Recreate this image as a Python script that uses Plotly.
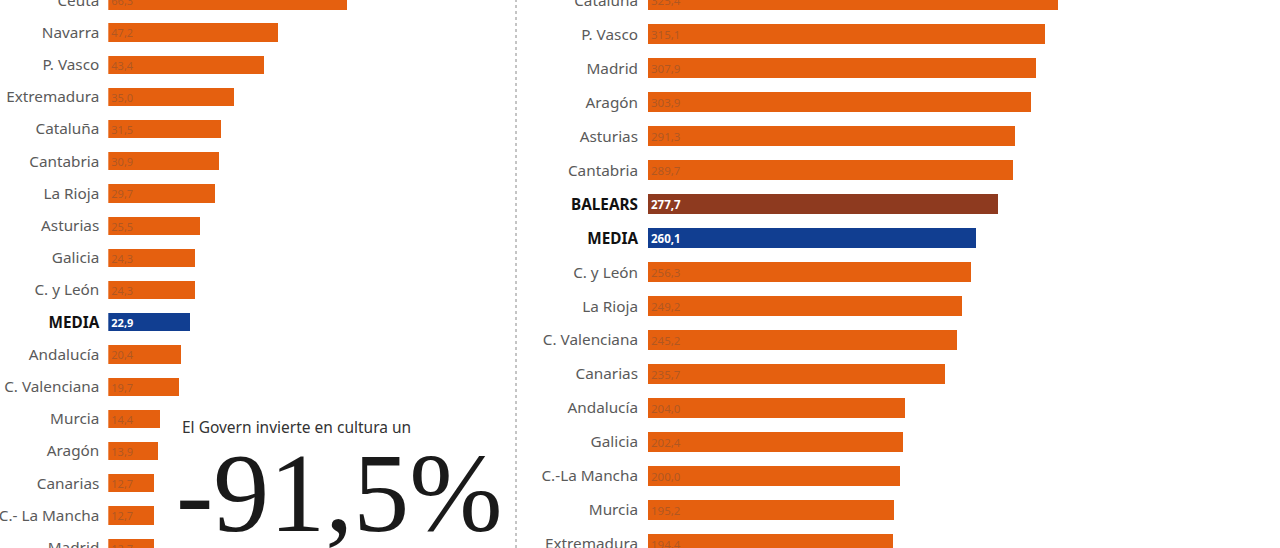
import plotly.graph_objects as go

# ---------------- data ----------------
left_regions = ["Ceuta", "Navarra", "P. Vasco", "Extremadura", "Cataluña", "Cantabria",
                "La Rioja", "Asturias", "Galicia", "C. y León", "MEDIA", "Andalucía",
                "C. Valenciana", "Murcia", "Aragón", "Canarias", "C.- La Mancha", "Madrid"]
left_values = [66.3, 47.2, 43.4, 35.0, 31.5, 30.9, 29.7, 25.5, 24.3, 24.3, 22.9, 20.4,
               19.7, 14.4, 13.9, 12.7, 12.7, 12.7]

right_regions = ["Cataluña", "P. Vasco", "Madrid", "Aragón", "Asturias", "Cantabria",
                 "BALEARS", "MEDIA", "C. y León", "La Rioja", "C. Valenciana", "Canarias",
                 "Andalucía", "Galicia", "C.-La Mancha", "Murcia", "Extremadura"]
right_values = [325.4, 315.1, 307.9, 303.9, 291.3, 289.7, 277.7, 260.1, 256.3, 249.2,
                245.2, 235.7, 204.0, 202.4, 200.0, 195.2, 194.4]

subtitle = "El Govern invierte en cultura un"
headline = "-91,5%"

# ---------------- styles ----------------
ORANGE = "#E5600F"
BALEARS_C = "#8E3A1F"
MEDIA_C = "#113E91"
W, H = 1280, 548


def fmt(v):
    return f"{v:.1f}".replace(".", ",")


def colors_for(regions):
    out = []
    for r in regions:
        if r == "MEDIA":
            out.append(MEDIA_C)
        elif r == "BALEARS":
            out.append(BALEARS_C)
        else:
            out.append(ORANGE)
    return out


def text_colors(regions):
    return ["white" if r in ("MEDIA", "BALEARS") else "rgba(130,80,50,0.55)" for r in regions]


def texts(regions, values):
    return [f"<b>{fmt(v)}</b>" if r in ("MEDIA", "BALEARS") else fmt(v)
            for r, v in zip(regions, values)]


def tick_texts(regions):
    return [f"<b><span style='color:#111'>{r}</span></b>" if r in ("MEDIA", "BALEARS") else r
            for r in regions]


fig = go.Figure()

fig.add_trace(go.Bar(
    x=left_values, y=left_regions, orientation="h",
    marker=dict(color=colors_for(left_regions), line=dict(width=0)),
    width=0.57,
    text=texts(left_regions, left_values),
    textposition="inside", insidetextanchor="start", textangle=0,
    textfont=dict(family="Noto Sans", size=11, color=text_colors(left_regions)),
    constraintext="none",
    xaxis="x", yaxis="y", showlegend=False, hoverinfo="skip",
))

fig.add_trace(go.Bar(
    x=right_values, y=right_regions, orientation="h",
    marker=dict(color=colors_for(right_regions), line=dict(width=0)),
    width=0.59,
    text=texts(right_regions, right_values),
    textposition="inside", insidetextanchor="start", textangle=0,
    textfont=dict(family="Noto Sans", size=11.5, color=text_colors(right_regions)),
    constraintext="none",
    xaxis="x2", yaxis="y2", showlegend=False, hoverinfo="skip",
))

lx0, lx1 = 108.3, 500.0
rx0, rx1 = 648.0, 1270.0
left_scale = 3.598   # px per unit
right_scale = 1.261

tickfont = dict(family="Noto Sans", size=15.3, color="#5a5a5a")

fig.update_layout(
    width=W, height=H,
    margin=dict(l=0, r=0, t=0, b=0),
    paper_bgcolor="white", plot_bgcolor="white",
    font=dict(family="Noto Sans"),
    bargap=0,
    xaxis=dict(domain=[lx0 / W, lx1 / W], range=[0, (lx1 - lx0) / left_scale],
               showgrid=False, zeroline=False, showticklabels=False, showline=False,
               fixedrange=True),
    xaxis2=dict(domain=[rx0 / W, rx1 / W], range=[0, (rx1 - rx0) / right_scale],
                showgrid=False, zeroline=False, showticklabels=False, showline=False,
                fixedrange=True),
    yaxis=dict(domain=[0, 1], anchor="x", type="category",
               categoryorder="array", categoryarray=left_regions,
               tickmode="array", tickvals=left_regions, ticktext=tick_texts(left_regions),
               range=[17.01, -0.01],
               showgrid=False, zeroline=False, showline=False, ticks="",
               tickfont=tickfont, ticklabelstandoff=8, automargin=False),
    yaxis2=dict(domain=[0, 1], anchor="x2", type="category",
                categoryorder="array", categoryarray=right_regions,
                tickmode="array", tickvals=right_regions, ticktext=tick_texts(right_regions),
                range=[H / 34.0, -0.01],
                showgrid=False, zeroline=False, showline=False, ticks="",
                tickfont=tickfont, ticklabelstandoff=9, automargin=False),
    shapes=[dict(type="line", xref="paper", yref="paper",
                 x0=516 / W, x1=516 / W, y0=0, y1=1,
                 line=dict(color="#8a8a8a", width=1, dash="dot"))],
    annotations=[
        dict(text=subtitle, xref="paper", yref="paper",
             x=180 / W, y=1 - 426.5 / H, xanchor="left", yanchor="middle",
             showarrow=False, font=dict(family="Noto Sans", size=15.5, color="#333333")),
        dict(text=headline, xref="paper", yref="paper",
             x=339 / W, y=1 - 493 / H, xanchor="center", yanchor="middle",
             showarrow=False, font=dict(family="Liberation Serif", size=112, color="#1a1a1a")),
    ],
)

fig.write_html("out.html")
